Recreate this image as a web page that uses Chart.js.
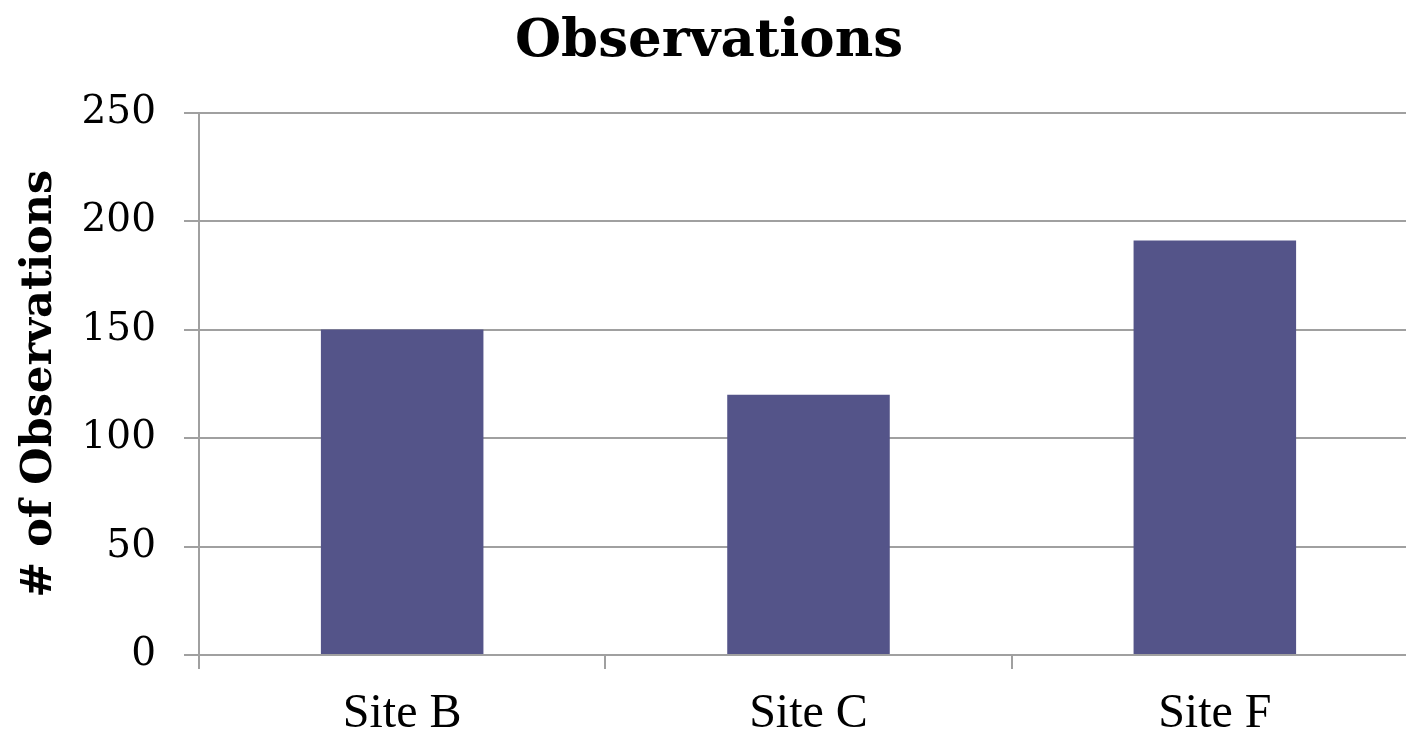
<!DOCTYPE html>
<html>
<head>
<meta charset="utf-8">
<title>Observations</title>
<script src="https://cdn.jsdelivr.net/npm/chart.js@4/dist/chart.umd.min.js"></script>
<style>
  html, body { margin: 0; padding: 0; background: #fff; overflow: hidden; }
  #wrap { width: 1406px; height: 733px; overflow: hidden; }
</style>
</head>
<body>
<div id="wrap"><canvas id="chart" width="1418" height="733"></canvas></div>
<script>
// Observation counts per site
const categories = ['Site B', 'Site C', 'Site F'];
const observations = [150, 120, 191];
const yTicks = [0, 50, 100, 150, 200, 250];

const gridColor = '#a0a0a0';
const barColor = '#545489';

const chart = new Chart(document.getElementById('chart'), {
  type: 'bar',
  data: {
    labels: categories,
    datasets: [{
      label: '# of Observations',
      data: observations,
      backgroundColor: barColor,
      borderWidth: 0,
      barPercentage: 0.4,
      categoryPercentage: 1.0
    }]
  },
  options: {
    responsive: false,
    animation: false,
    devicePixelRatio: 1,
    layout: { padding: { left: 0, right: 0, top: 0, bottom: 0 } },
    plugins: {
      legend: { display: false },
      tooltip: { enabled: false },
      title: {
        display: true,
        text: 'Observations',
        color: '#000',
        font: { family: 'DejaVu Serif', size: 53, weight: 'bold' },
        padding: { top: 10, bottom: 39 }
      }
    },
    scales: {
      x: {
        grid: {
          display: true,
          offset: true,
          drawOnChartArea: false,
          drawTicks: true,
          tickLength: 14,
          color: gridColor,
          lineWidth: 2
        },
        border: { display: true, color: gridColor, width: 2 },
        ticks: {
          color: '#000',
          font: { family: 'Liberation Serif', size: 48 },
          padding: 17
        },
        afterFit: (s) => { s.height = 78; }
      },
      y: {
        min: 0,
        max: 250,
        afterBuildTicks: (s) => { s.ticks = yTicks.map(v => ({ value: v })); },
        grid: {
          color: gridColor,
          lineWidth: 2,
          drawTicks: true,
          tickLength: 15
        },
        border: { display: true, color: gridColor, width: 2 },
        ticks: {
          color: '#000',
          font: { family: 'DejaVu Serif', size: 39 },
          padding: 28
        },
        title: {
          display: true,
          text: '# of Observations',
          color: '#000',
          font: { family: 'DejaVu Serif', size: 43, weight: 'bold' },
          padding: { top: 14, bottom: 0 }
        },
        afterFit: (s) => { s.width = 199; }
      }
    }
  }
});
</script>
</body>
</html>
